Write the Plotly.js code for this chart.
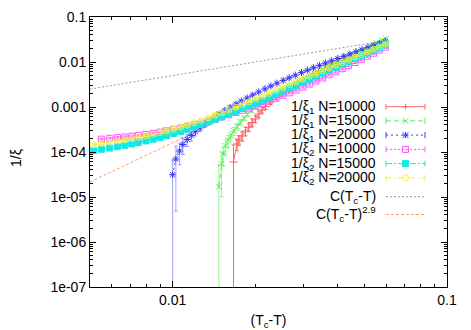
<!DOCTYPE html>
<html>
<head>
<meta charset="utf-8">
<script src="https://cdn.plot.ly/plotly-3.0.1.min.js"></script>
<style>
  html, body { margin: 0; padding: 0; background: #fff; }
  #plot { width: 471px; height: 330px; }
</style>
</head>
<body>
<div id="plot"></div>
<script>
// ---- data ----

// (Tc-T) grid of the 1/xi2 series
var tcT_xi2 = [0.00515, 0.0055, 0.0059, 0.0063, 0.0067, 0.0071, 0.0075, 0.0080, 0.0085, 0.0090,
  0.0095, 0.0101, 0.0107, 0.0113, 0.0120, 0.0127, 0.0135, 0.0143, 0.0151, 0.0160,
  0.0170, 0.0180, 0.0190, 0.0201, 0.0213, 0.0225, 0.0238, 0.0252, 0.0267, 0.0282,
  0.0298, 0.0315, 0.0333, 0.0352, 0.0372, 0.0393, 0.0415, 0.0438, 0.0462, 0.0487,
  0.0513, 0.0540, 0.0568, 0.0597];

var xi2_N10000 = [null, 1.925e-4, 2.016e-4, 2.089e-4, 2.166e-4, 2.245e-4, 2.339e-4, 2.461e-4, 2.590e-4, 2.768e-4,
  2.958e-4, 3.195e-4, 3.431e-4, 3.706e-4, 4.043e-4, 4.434e-4, 4.885e-4, 5.412e-4, 5.995e-4, 6.708e-4,
  7.548e-4, 8.446e-4, 9.453e-4, 1.063e-3, 1.202e-3, 1.367e-3, 1.561e-3, 1.792e-3, 2.068e-3, 2.387e-3,
  2.768e-3, 3.228e-3, 3.763e-3, 4.410e-3, 5.168e-3, 6.056e-3, 7.098e-3, 8.318e-3, 9.747e-3, 1.142e-2,
  1.338e-2, 1.568e-2, 1.829e-2, 2.133e-2];

var xi2_N15000 = [1.069e-4, 1.148e-4, 1.227e-4, 1.311e-4, 1.409e-4, 1.506e-4, 1.617e-4, 1.764e-4, 1.925e-4, 2.110e-4,
  2.314e-4, 2.577e-4, 2.869e-4, 3.195e-4, 3.612e-4, 4.084e-4, 4.665e-4, 5.329e-4, 6.056e-4, 6.954e-4,
  8.025e-4, 9.213e-4, 1.058e-3, 1.214e-3, 1.401e-3, 1.642e-3, 1.916e-3, 2.245e-3, 2.630e-3, 3.051e-3,
  3.557e-3, 4.147e-3, 4.835e-3, 5.638e-3, 6.539e-3, 7.625e-3, 8.845e-3, 1.026e-2, 1.190e-2, 1.373e-2,
  1.585e-2, 1.820e-2, 2.089e-2, 2.399e-2];

var xi2_N20000 = [1.453e-4, 1.553e-4, 1.651e-4, 1.755e-4, 1.867e-4, 1.985e-4, 2.121e-4, 2.291e-4, 2.486e-4, 2.698e-4,
  2.929e-4, 3.228e-4, 3.575e-4, 3.960e-4, 4.456e-4, 5.012e-4, 5.725e-4, 6.539e-4, 7.432e-4, 8.534e-4,
  9.898e-4, 1.136e-3, 1.305e-3, 1.506e-3, 1.747e-3, 2.016e-3, 2.326e-3, 2.698e-3, 3.130e-3, 3.612e-3,
  4.169e-3, 4.811e-3, 5.552e-3, 6.405e-3, 7.394e-3, 8.534e-3, 9.797e-3, 1.125e-2, 1.292e-2, 1.476e-2,
  1.685e-2, 1.925e-2, 2.198e-2, 2.512e-2];

// 1/xi1, N=10000
var tcT_xi1_N10000 = [0.01667, 0.01716, 0.01745, 0.01793, 0.01843, 0.01894, 0.01949, 0.02004, 0.02060, 0.02119,
  0.02179, 0.02272, 0.02389, 0.02512, 0.02642, 0.02778, 0.02921, 0.03071, 0.03229, 0.03396,
  0.03570, 0.03755, 0.03948, 0.04151, 0.04365, 0.04590, 0.04826, 0.05075, 0.05337, 0.05611, 0.05900];
var xi1_N10000 = [5.995e-5, 1.506e-4, 1.848e-4, 2.268e-4, 2.929e-4, 3.538e-4, 4.524e-4, 5.412e-4, 6.989e-4, 8.577e-4,
  1.026e-3, 1.292e-3, 1.626e-3, 2.016e-3, 2.474e-3, 3.005e-3, 3.612e-3, 4.299e-3, 5.089e-3, 5.995e-3,
  7.025e-3, 8.191e-3, 9.502e-3, 1.102e-2, 1.272e-2, 1.460e-2, 1.668e-2, 1.905e-2, 2.166e-2, 2.448e-2, 2.768e-2];
var err_xi1_N10000 = [8.3e-5, 4.4e-5, 4.6e-5, 5.4e-5, 6.4e-5, 7.1e-5, 8.6e-5, 9.7e-5, 1.19e-4, 1.29e-4,
  1.44e-4, 1.55e-4, 1.6e-4, 1.8e-4, 2.0e-4, 2.1e-4, 2.2e-4, 2.6e-4, 3.0e-4, 3.4e-4,
  3.5e-4, 4.1e-4, 4.8e-4, 5.5e-4, 6.4e-4, 7.3e-4, 8.3e-4, 9.5e-4, 1.08e-3, 1.22e-3, 1.38e-3];

// 1/xi1, N=15000
var tcT_xi1_N15000 = [0.01474, 0.01508, 0.01529, 0.01559, 0.01594, 0.01632, 0.01674, 0.01719, 0.01768, 0.01820,
  0.01874, 0.01938, 0.02004, 0.02081, 0.02161, 0.02253, 0.02349, 0.02470, 0.02598, 0.02732,
  0.02872, 0.03020, 0.03176, 0.03339, 0.03511, 0.03692, 0.03882, 0.04082, 0.04292, 0.04513,
  0.04746, 0.04990, 0.05248, 0.05518, 0.05803, 0.06000];
var xi1_N15000 = [1.694e-5, 5.412e-5, 9.027e-5, 1.360e-4, 1.801e-4, 2.326e-4, 2.929e-4, 3.687e-4, 4.571e-4, 5.610e-4,
  6.813e-4, 8.318e-4, 9.747e-4, 1.136e-3, 1.318e-3, 1.545e-3, 1.801e-3, 2.154e-3, 2.564e-3, 3.051e-3,
  3.612e-3, 4.277e-3, 5.037e-3, 5.934e-3, 6.954e-3, 8.150e-3, 9.502e-3, 1.108e-2, 1.285e-2, 1.491e-2,
  1.729e-2, 1.995e-2, 2.314e-2, 2.657e-2, 3.035e-2, 3.294e-2];
var err_xi1_N15000 = [3.5e-5, 4.4e-5, 4.1e-5, 4.8e-5, 5.4e-5, 5.8e-5, 5.9e-5, 6.3e-5, 6.9e-5, 7.3e-5,
  8.2e-5, 8.3e-5, 8.8e-5, 9.1e-5, 9.2e-5, 9.3e-5, 1.08e-4, 1.29e-4, 1.54e-4, 1.5e-4,
  1.8e-4, 2.1e-4, 2.5e-4, 3.0e-4, 3.5e-4, 4.1e-4, 4.8e-4, 5.5e-4, 6.4e-4, 7.5e-4,
  8.6e-4, 1.0e-3, 1.16e-3, 1.33e-3, 1.52e-3, 1.65e-3];

// 1/xi1, N=20000
var tcT_xi1_N20000 = [0.0100, 0.01028, 0.0106, 0.0109, 0.0113, 0.0117, 0.0121, 0.0126, 0.0131, 0.0136,
  0.0142, 0.0148, 0.0155, 0.0162, 0.0170, 0.0178, 0.0187, 0.0196, 0.0206, 0.0217,
  0.0228, 0.0240, 0.0253, 0.0266, 0.0280, 0.0295, 0.0310, 0.0326, 0.0343, 0.0361,
  0.0380, 0.0400, 0.0421, 0.0443, 0.0466, 0.0490, 0.0515, 0.0541, 0.0568, 0.0596];
var xi1_N20000 = [3.13e-5, 6.99e-5, 1.052e-4, 1.468e-4, 1.896e-4, 2.326e-4, 2.811e-4, 3.449e-4, 4.147e-4, 4.885e-4,
  5.903e-4, 6.989e-4, 8.36e-4, 9.80e-4, 1.160e-3, 1.353e-3, 1.585e-3, 1.848e-3, 2.154e-3, 2.525e-3,
  2.929e-3, 3.380e-3, 3.901e-3, 4.456e-3, 5.089e-3, 5.813e-3, 6.572e-3, 7.432e-3, 8.402e-3, 9.453e-3,
  1.063e-2, 1.196e-2, 1.338e-2, 1.498e-2, 1.677e-2, 1.867e-2, 2.078e-2, 2.302e-2, 2.551e-2, 2.826e-2];
var err_xi1_N20000 = [3.5e-5, 6.5e-5, 5.3e-5, 5.9e-5, 5.7e-5, 5.8e-5, 5.6e-5, 5.9e-5, 6.2e-5, 6.4e-5,
  6.5e-5, 7.0e-5, 7.5e-5, 7.8e-5, 8.1e-5, 8.1e-5, 9.5e-5, 1.11e-4, 1.08e-4, 1.26e-4,
  1.46e-4, 1.69e-4, 1.95e-4, 2.23e-4, 2.54e-4, 2.91e-4, 3.29e-4, 3.72e-4, 4.2e-4, 4.73e-4,
  5.3e-4, 6.0e-4, 6.7e-4, 7.5e-4, 8.4e-4, 9.3e-4, 1.04e-3, 1.15e-3, 1.28e-3, 1.41e-3];

// fitted power laws, end points
var fitX = [0.005, 0.058];
var fitLinear = [0.0025, 0.029];
var fitPower = [2.15e-5, 0.0263];

// axis ticks
var xTickVals = [0.01, 0.1];
var xTickText = ["0.01", "0.1"];
var yTickVals = [1e-7, 1e-6, 1e-5, 1e-4, 0.001, 0.01, 0.1];
var yTickText = ["1e-07", "1e-06", "1e-05", "1e-04", "0.001", "0.01", "0.1"];

// legend
var legendLabels = ["1/ξ<sub>1</sub> N=10000", "1/ξ<sub>1</sub> N=15000", "1/ξ<sub>1</sub> N=20000",
  "1/ξ<sub>2</sub> N=10000", "1/ξ<sub>2</sub> N=15000", "1/ξ<sub>2</sub> N=20000",
  "C(T<sub>c</sub>-T)", "C(T<sub>c</sub>-T)<sup>2.9</sup>"];

// ---- styles ----
var colors = ["#ff6666", "#55ee55", "#3a3aff", "#ff55ff", "#11e8e8", "#f0f040", "#999999", "#ff9977"];
// error bars can't be dashed, so the dashed / dotted ones are drawn lighter
var errColors = ["#ff6666", "rgba(85,238,85,0.6)", "rgba(58,58,255,0.45)", "#ff55ff", "#11e8e8", "#f0f040"];
var dashes = ["solid", "5px,3px", "2px,3px", "2px,2px", "6px,2px,2px,2px", "5px,3px,1px,3px", "2px,2px", "3px,2px"];
var symbols = ["cross-thin-open", "x-thin-open", "asterisk-open", "square-open", "square", "circle-open"];

function errTrace(x, y, i, err) {
  var t = {
    x: x, y: y, type: "scatter", mode: "lines+markers",
    line: {color: colors[i], width: 1, dash: dashes[i]},
    marker: {symbol: symbols[i], size: 6, color: colors[i], line: {color: colors[i], width: 1}},
    showlegend: false
  };
  if (err) {
    t.error_y = {type: "data", array: err, visible: true, color: errColors[i], thickness: 1, width: 2};
  } else {
    t.error_y = {type: "percent", value: 5, visible: true, color: errColors[i], thickness: 1, width: 2};
  }
  return t;
}

function fitTrace(y, i) {
  return {
    x: fitX, y: y, type: "scatter", mode: "lines",
    line: {color: colors[i], width: 1, dash: dashes[i]},
    showlegend: false
  };
}

var data = [
  fitTrace(fitLinear, 6),
  fitTrace(fitPower, 7),
  errTrace(tcT_xi1_N10000, xi1_N10000, 0, err_xi1_N10000),
  errTrace(tcT_xi1_N15000, xi1_N15000, 1, err_xi1_N15000),
  errTrace(tcT_xi1_N20000, xi1_N20000, 2, err_xi1_N20000),
  errTrace(tcT_xi2, xi2_N10000, 3),
  errTrace(tcT_xi2, xi2_N15000, 4),
  errTrace(tcT_xi2, xi2_N20000, 5)
];

// ---- hand-made gnuplot style key (text left, sample right) ----
var plotL = 90, plotR = 447, plotT = 17, plotB = 287;
function px(x) { return (x - plotL) / (plotR - plotL); }
function py(y) { return (plotB - y) / (plotB - plotT); }

var rowY = [106.7, 120.9, 135.1, 149.4, 163.6, 177.9, 196.7, 214.5];
var annotations = [];
var shapes = [];
legendLabels.forEach(function(label, i) {
  var a = {
    xref: "paper", yref: "paper", x: px(378), y: py(rowY[i]),
    xanchor: "right", yanchor: "middle", showarrow: false,
    text: label, font: {size: 14, color: "#000"}
  };
  if (i < 7) a.height = 14;
  annotations.push(a);
  var c = colors[i];
  shapes.push({type: "line", xref: "paper", yref: "paper",
    x0: px(386), x1: px(425), y0: py(rowY[i]), y1: py(rowY[i]),
    line: {color: c, width: 1, dash: dashes[i]}});
  if (i < 6) {
    [386, 425].forEach(function(ex) {
      shapes.push({type: "line", xref: "paper", yref: "paper",
        x0: px(ex), x1: px(ex), y0: py(rowY[i] - 3), y1: py(rowY[i] + 3),
        line: {color: c, width: 1}});
    });
    var mx = 405.5, my = rowY[i], s = 3;
    var seg = function(x0, y0, x1, y1) {
      shapes.push({type: "line", xref: "paper", yref: "paper",
        x0: px(x0), x1: px(x1), y0: py(y0), y1: py(y1), line: {color: c, width: 1}});
    };
    if (i === 0 || i === 2) { seg(mx - s, my, mx + s, my); seg(mx, my - s, mx, my + s); }
    if (i === 1 || i === 2) { seg(mx - s, my - s, mx + s, my + s); seg(mx - s, my + s, mx + s, my - s); }
    if (i === 3 || i === 4) {
      shapes.push({type: "rect", xref: "paper", yref: "paper",
        x0: px(mx - s), x1: px(mx + s), y0: py(my - s), y1: py(my + s),
        line: {color: c, width: 1}, fillcolor: i === 4 ? c : "rgba(0,0,0,0)"});
    }
    if (i === 5) {
      shapes.push({type: "circle", xref: "paper", yref: "paper",
        x0: px(mx - s), x1: px(mx + s), y0: py(my - s), y1: py(my + s),
        line: {color: c, width: 1}});
    }
  }
});

// y axis title, placed like gnuplot's ylabel
annotations.push({
  xref: "paper", yref: "paper", x: px(16), y: py(158),
  xanchor: "center", yanchor: "middle", showarrow: false, textangle: -90,
  text: "1/ξ", font: {size: 14, color: "#000"}
});

var axisCommon = {
  type: "log",
  showline: true, linecolor: "#000", linewidth: 1, mirror: "allticks",
  ticks: "inside", ticklen: 6, tickcolor: "#000", tickwidth: 1,
  showgrid: false, zeroline: false,
  tickmode: "array",
  minor: {ticks: "inside", ticklen: 3, tickcolor: "#000", dtick: "D1", showgrid: false},
  tickfont: {size: 14, color: "#000"}
};

var layout = {
  width: 471, height: 330,
  margin: {l: plotL, r: 471 - plotR, t: plotT, b: 330 - plotB},
  paper_bgcolor: "#fff", plot_bgcolor: "#fff",
  font: {family: "Liberation Sans, Arial, sans-serif", size: 14, color: "#000"},
  showlegend: false,
  xaxis: Object.assign({}, axisCommon, {
    range: [Math.log10(0.005), -1],
    tickvals: xTickVals, ticktext: xTickText,
    title: {text: "(T<sub>c</sub>-T)", font: {size: 14}, standoff: 9}
  }),
  yaxis: Object.assign({}, axisCommon, {
    range: [-7, -1],
    tickvals: yTickVals, ticktext: yTickText
  }),
  annotations: annotations,
  shapes: shapes
};

Plotly.newPlot("plot", data, layout, {staticPlot: true});
</script>
</body>
</html>
